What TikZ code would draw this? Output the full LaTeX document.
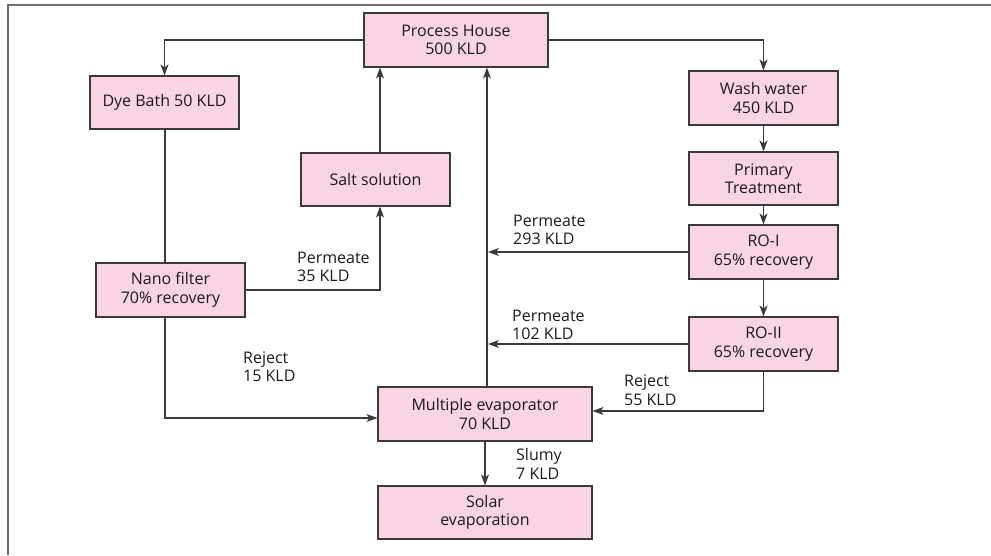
\documentclass[tikz,border=0pt]{standalone}
\usepackage{fontspec}
\setmainfont{Open Sans}
\usetikzlibrary{arrows.meta}
\definecolor{boxpink}{HTML}{F8D4E4}
\definecolor{edge}{HTML}{3A3A3A}
\definecolor{frame}{HTML}{6E6E6E}
\definecolor{txt}{HTML}{1E1A1B}
\begin{document}
\begin{tikzpicture}[x=1pt,y=-1pt,
  box/.style={draw=edge, line width=1.1pt, fill=boxpink, align=center, text=txt,
    inner sep=0pt, font=\fontsize{16}{18.5}\selectfont},
  lbl/.style={align=left, anchor=west, inner sep=0pt, text=txt, font=\fontsize{16}{18.5}\selectfont},
  arr/.style={draw=edge, line width=1.1pt, -{Stealth[length=11pt,width=8pt,inset=3pt]}},
  ln/.style={draw=edge, line width=1.1pt}]
\useasboundingbox (0,0) rectangle (991,555);
% frame
\draw[frame, line width=2pt] (991,4.5) -- (8,4.5) -- (8,555);
% boxes
\node[box, minimum width=184pt, minimum height=54pt] (ph) at (456,40) {Process House\\500 KLD};
\node[box, minimum width=149pt, minimum height=53pt] (dye) at (164.5,102.5) {Dye Bath 50 KLD};
\node[box, minimum width=149pt, minimum height=54pt] (wash) at (763.5,98) {Wash water\\450 KLD};
\node[box, minimum width=149pt, minimum height=53pt] (salt) at (375.5,179.5) {Salt solution};
\node[box, minimum width=149pt, minimum height=53pt] (prim) at (763.5,178.5) {Primary\\Treatment};
\node[box, minimum width=149pt, minimum height=54pt] (ro1) at (763.5,252) {RO-I\\65\% recovery};
\node[box, minimum width=149pt, minimum height=54pt] (nano) at (170.5,290) {Nano filter\\70\% recovery};
\node[box, minimum width=149pt, minimum height=54pt] (ro2) at (763.5,344) {RO-II\\65\% recovery};
\node[box, minimum width=214pt, minimum height=54pt] (mev) at (485,414) {Multiple evaporator\\70 KLD};
\node[box, minimum width=214pt, minimum height=53pt] (solar) at (485,512.5) {Solar\\evaporation};
% helper coordinates
\coordinate (vx) at (487,0);
\coordinate (sx) at (380,0);
\coordinate (dx) at (165,0);
% connectors
\draw[arr] (ph.west) -| (dye.north);
\draw[arr] (ph.east) -| (wash.north);
\draw[arr] (wash) -- (prim);
\draw[arr] (prim) -- (ro1);
\draw[arr] (ro1) -- (ro2);
\draw[ln] (dx |- dye.south) -- (dx |- nano.north);
\draw[arr] (nano.east) -| (sx |- salt.south);
\draw[arr] (sx |- salt.north) -- (sx |- ph.south);
\draw[arr] (vx |- mev.north) -- (vx |- ph.south);
\draw[arr] (ro1.west) -- ([xshift=1pt]vx |- ro1.west);
\draw[arr] (ro2.west) -- ([xshift=1pt]vx |- ro2.west);
\draw[arr] (dx |- nano.south) |- ([yshift=-4pt]mev.west);
\draw[arr] (ro2.south) |- ([yshift=3pt]mev.east);
\draw[arr] (mev) -- (solar);
% labels
\node[lbl] (l1) at (297,267) {Permeate\\35 KLD};
\node[lbl] (l2) at (513,230) {Permeate\\293 KLD};
\node[lbl] (l3) at (512,325) {Permeate\\102 KLD};
\node[lbl] (l4) at (243,366.5) {Reject\\15 KLD};
\node[lbl] (l5) at (624,390) {Reject\\55 KLD};
\node[lbl] (l6) at (516,464) {Slumy\\7 KLD};
\end{tikzpicture}
\end{document}
